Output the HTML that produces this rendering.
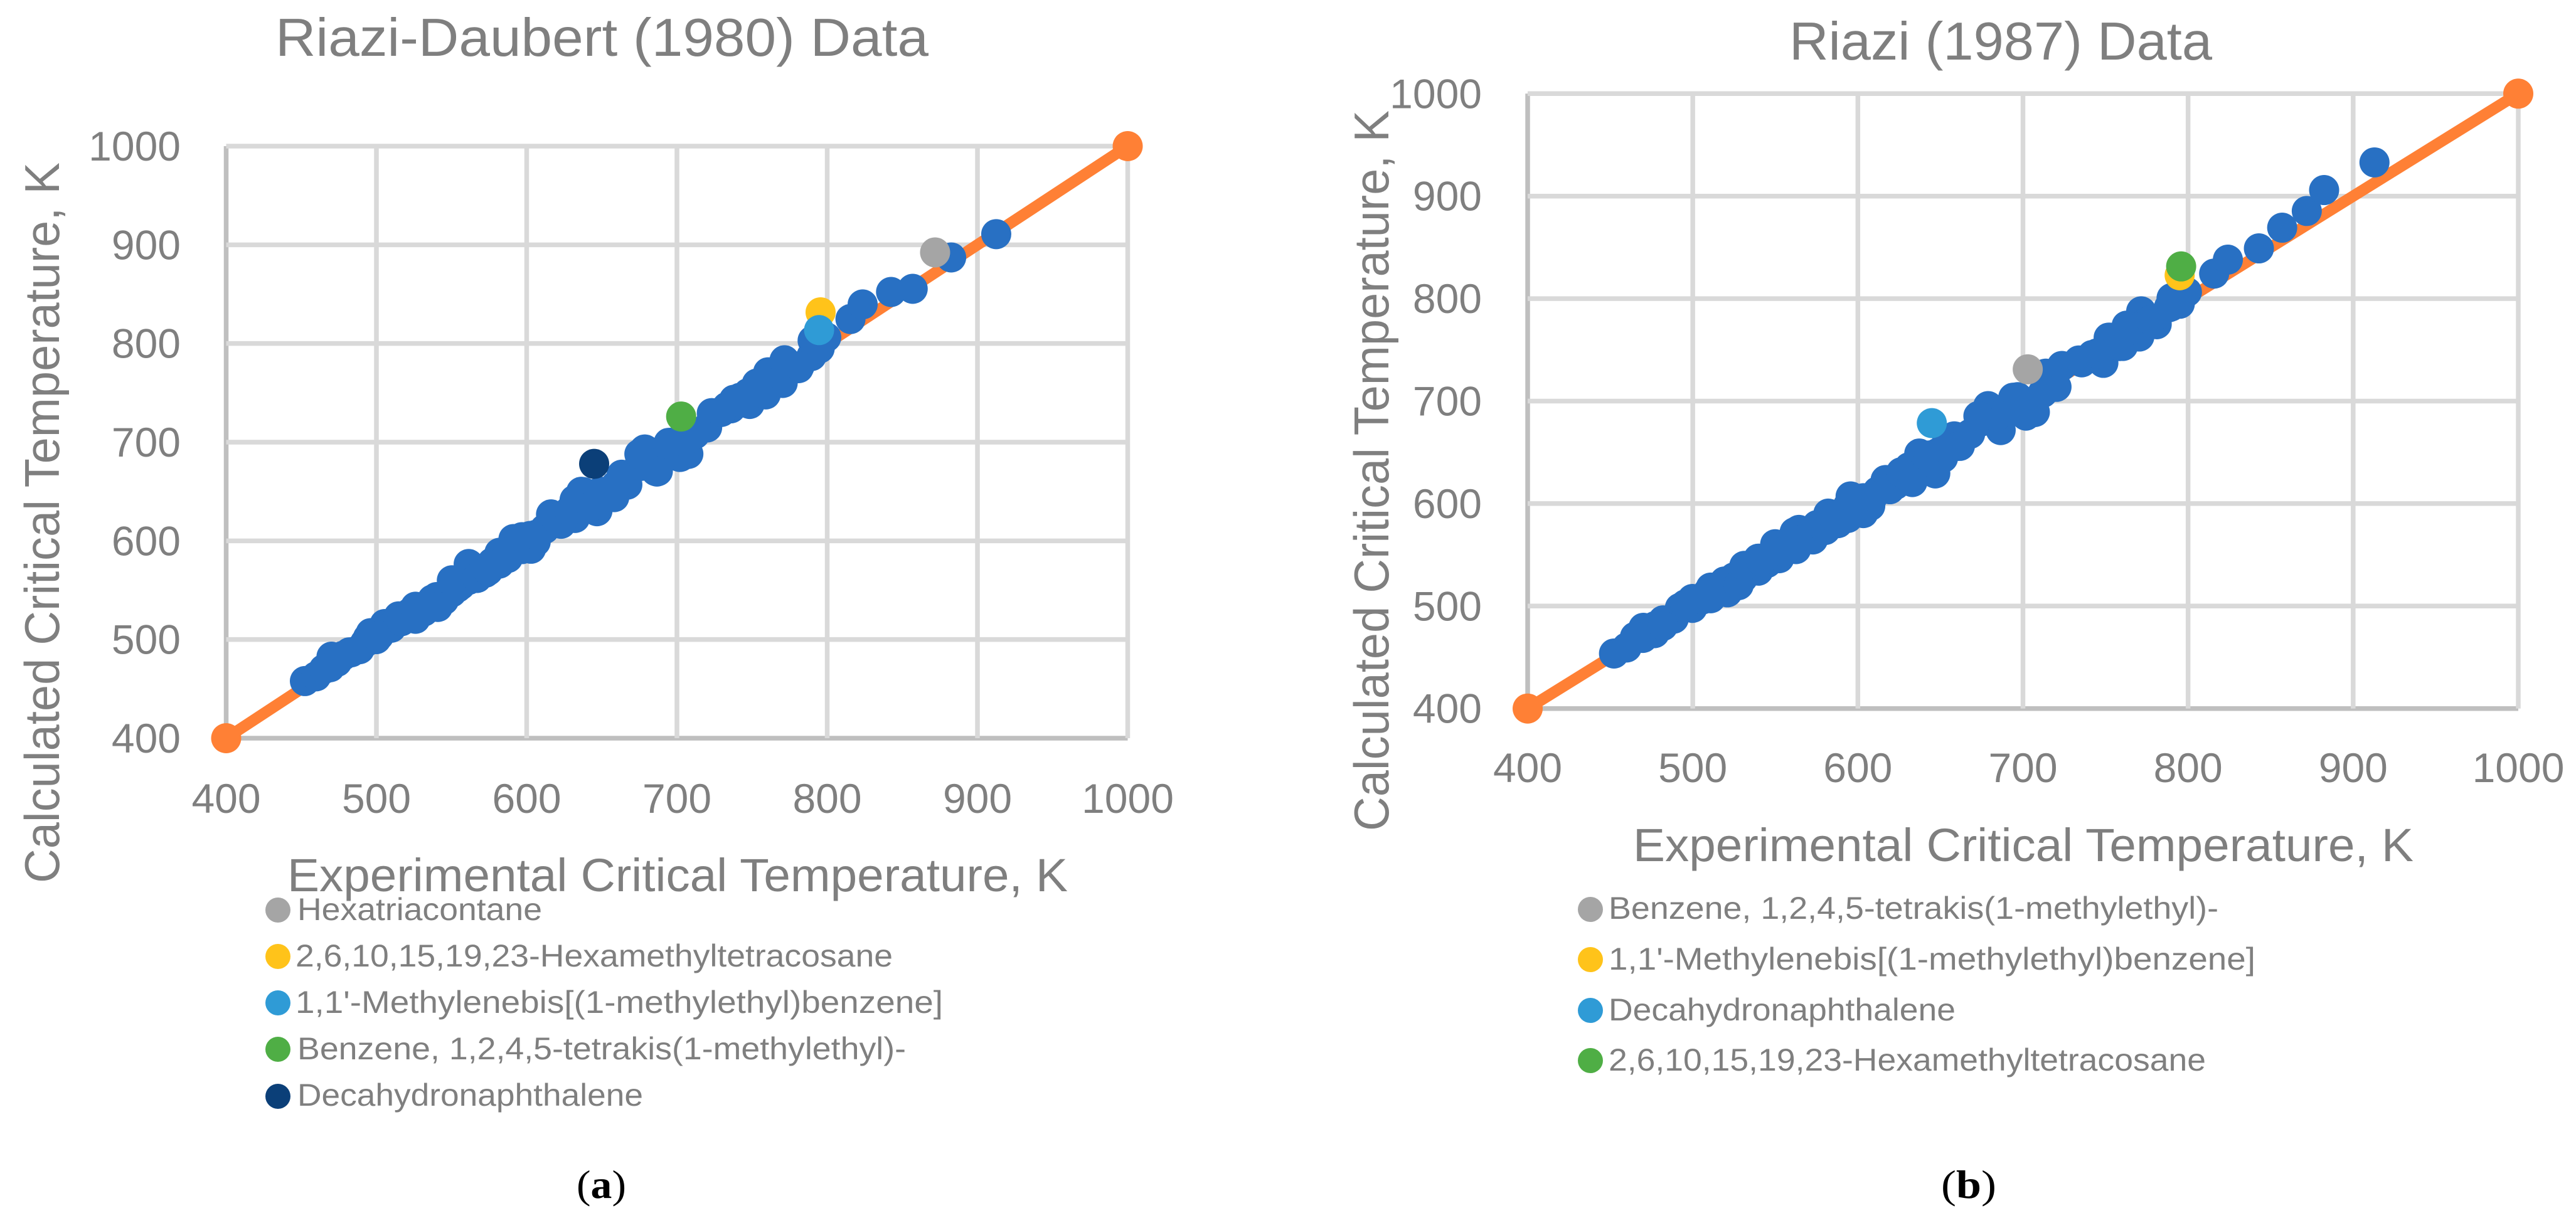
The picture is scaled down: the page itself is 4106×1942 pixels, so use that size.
<!DOCTYPE html>
<html lang="en">
<head>
<meta charset="utf-8">
<title>Critical temperature parity charts</title>
<style>
html,body{margin:0;padding:0;background:#fff;width:4106px;height:1942px;overflow:hidden}
svg{display:block}
text{font-family:"Liberation Sans",sans-serif;fill:#7f7f7f}
.cap{font-family:"Liberation Serif",serif;fill:#000}
</style>
</head>
<body>
<svg id="figure" xmlns="http://www.w3.org/2000/svg" width="4106" height="1942" viewBox="0 0 4106 1942">
  <rect width="4106" height="1942" fill="#fff"/>
  <g id="panel-a"></g>
  <g id="panel-b"></g>

  <text x="439" y="89" font-size="85" textLength="1041" lengthAdjust="spacingAndGlyphs">Riazi-Daubert (1980) Data</text>
  <text x="458" y="1421" font-size="74" textLength="1244" lengthAdjust="spacingAndGlyphs">Experimental Critical Temperature, K</text>
  <text transform="translate(94,1408) rotate(-90)" font-size="78" textLength="1149" lengthAdjust="spacingAndGlyphs">Calculated Critical Temperature, K</text>

  <g>
    <g><circle cx="443" cy="1451" r="20" fill="#a5a5a5"/><text x="474" y="1467" font-size="50" textLength="390" lengthAdjust="spacingAndGlyphs">Hexatriacontane</text></g>
    <g><circle cx="443" cy="1525" r="20" fill="#ffc31a"/><text x="471" y="1541" font-size="50" textLength="952" lengthAdjust="spacingAndGlyphs">2,6,10,15,19,23-Hexamethyltetracosane</text></g>
    <g><circle cx="443" cy="1599" r="20" fill="#2f9bd6"/><text x="471" y="1615" font-size="50" textLength="1032" lengthAdjust="spacingAndGlyphs">1,1'-Methylenebis[(1-methylethyl)benzene]</text></g>
    <g><circle cx="443" cy="1673" r="20" fill="#4fae45"/><text x="474" y="1689" font-size="50" textLength="970" lengthAdjust="spacingAndGlyphs">Benzene, 1,2,4,5-tetrakis(1-methylethyl)-</text></g>
    <g><circle cx="443" cy="1748" r="20" fill="#0b3f78"/><text x="474" y="1763" font-size="50" textLength="551" lengthAdjust="spacingAndGlyphs">Decahydronaphthalene</text></g>
  </g>

  <text class="cap" x="919" y="1910" font-size="64" textLength="79" lengthAdjust="spacingAndGlyphs">(<tspan font-weight="bold">a</tspan>)</text>

  <text x="2852" y="95" font-size="85" textLength="674" lengthAdjust="spacingAndGlyphs">Riazi (1987) Data</text>
  <text x="2603" y="1373" font-size="74" textLength="1244" lengthAdjust="spacingAndGlyphs">Experimental Critical Temperature, K</text>
  <text transform="translate(2213,1325) rotate(-90)" font-size="78" textLength="1149" lengthAdjust="spacingAndGlyphs">Calculated Critical Temperature, K</text>

  <g>
    <g><circle cx="2535" cy="1450" r="20" fill="#a5a5a5"/><text x="2564" y="1465" font-size="50" textLength="972" lengthAdjust="spacingAndGlyphs">Benzene, 1,2,4,5-tetrakis(1-methylethyl)-</text></g>
    <g><circle cx="2535" cy="1530" r="20" fill="#ffc31a"/><text x="2564" y="1546" font-size="50" textLength="1031" lengthAdjust="spacingAndGlyphs">1,1'-Methylenebis[(1-methylethyl)benzene]</text></g>
    <g><circle cx="2535" cy="1611" r="20" fill="#2f9bd6"/><text x="2564" y="1627" font-size="50" textLength="553" lengthAdjust="spacingAndGlyphs">Decahydronaphthalene</text></g>
    <g><circle cx="2535" cy="1691" r="20" fill="#4fae45"/><text x="2564" y="1707" font-size="50" textLength="952" lengthAdjust="spacingAndGlyphs">2,6,10,15,19,23-Hexamethyltetracosane</text></g>
  </g>

  <text class="cap" x="3094" y="1910" font-size="64" textLength="88" lengthAdjust="spacingAndGlyphs">(<tspan font-weight="bold">b</tspan>)</text>
</svg>

<script>
const tickValues = [400, 500, 600, 700, 800, 900, 1000];
const tickLabels = ["400", "500", "600", "700", "800", "900", "1000"];

const parityX = [400, 1000];
const parityY = [400, 1000];

const experimentalA = [452.4,459.9,470.1,469.2,477.6,488.8,494.3,505.5,499.9,514.8,522.3,522,531.6,540,537.2,552,550.2,561.4,561.4,572.6,581.9,587.5,591.2,602.4,602.9,606,616.4,622.9,632.2,634,637.8,647.1,652.7,658.3,660,667,675,678.8,686,676.5,694.5,707.6,702.4,687.3,720.1,723.2,733.3,735.9,747.2,748.4,753.2,759.1,763.9,770.4,771.6,775,789.6,790.3,799.4,815.5,823.6,842.5,856.9,882.5,912.5,465,482,510,527,545,556,567,577,597,612,628,642,650,684,696,712,742,756,767,781,795,616.2,646.8,636.3,631.1,622.9,631.9,659.4,663.2,649,678.4,675,686.7,701.9,696,675,729.5,738,747.3,760.7,768,772,781.6,473.8,483.2,492.5,496.2,507.4,501.8,516.7,526,526,537.2,540.9,550.2,554,563.3,567,574.4,581.9,589.4,596.8,596.8,606,619.2,628.5,637.8,643.4,649];
const calculatedA = [457.9,462.7,482.6,471.9,483.4,490.2,501.6,515.7,500.4,523.5,527.1,523.5,528.4,543,533,552.6,547.8,560.4,576.5,567.7,587.9,582.6,601.8,605,592,599,626.3,617.8,623.2,635,649.4,630.5,645,644.3,652,657,676.7,692.5,670.6,676,699.3,688.1,685.2,670.6,714.9,729.5,735.8,734.3,746,738.7,759.4,748.4,766.7,760,783,775,787.3,803,806.3,824.8,839.6,852.2,855.4,887.2,910.8,470,487,512,530,540,555,570,578,598,612,625,640,648,685,692,708,745,755,770,775,795,626.8,630,649.7,623.6,617.3,641.6,656.4,667,648,692.5,676.6,670.2,685,699.4,688,730.6,743,749.6,770.8,771,781,777,477.3,487,496.8,506.5,511.3,504,518.6,533.2,521,540.5,533,560,552.6,572.1,562.4,569.7,577,589.1,591.6,603.7,606,623.2,630.5,642.6,635.3,649.9];

const experimentalB = [452.3,460,470.1,469.8,476.9,488.5,492.2,499.8,499.8,509.2,510.9,519.3,530.4,529.5,539.7,539.7,552.4,551.6,562.6,564.3,572.8,582.1,588,594,603.3,603.3,607.5,616.8,622.8,630.4,633,637.2,646.9,648.2,651.6,660,658.4,657,674.5,678.9,686.5,694.1,701.8,707.2,713.8,720.3,723.6,733.8,735.6,747.6,748.7,751.9,758.5,762.8,770.5,771.6,774.8,789.7,790,799.3,815.8,824.1,842.9,857,871.9,882.4,912.9,465,482,525,545,557,570,577,598,612,628,642,655,668,684,696,712,742,756,766,781,795,631,664,654,673,696.8,752.4,760.6,773.5,764,745,777.5,788.4,476.9,482,495.6,505.8,510.9,521,527.8,531.2,541.4,549.9,555,561.7,566.8,575.3,580.4,585.5,594,595.6,600.7,609.2,619.4,626.2,633,643.1,646.5,653.3,661.8];
const calculatedB = [453.7,459.6,478.8,468.9,480.2,487.7,498.2,506.9,498.2,513.4,507.6,524,527.5,532.6,546.2,534.5,546.7,554.4,555.6,574.3,565,590.2,580.9,597.7,590.7,605.2,597.7,623,618.3,624,634,648.8,629.4,649.3,644.6,656.3,665.6,658,680,695.1,671.7,703.3,685.8,689.3,726.8,713.9,734.3,739.6,737.8,744.3,737.3,761.9,753.7,773.6,763,787.6,777,792.3,800.5,806.4,824.4,838,849,869.2,885.5,905.9,932.9,470,486,528,542,556,570,578,598,612,625,640,655,668,685,692,708,745,755,770,775,795,635.4,665,661,685.4,703.8,761.9,753.8,775,769,746.6,779,791.5,473.6,480.6,501.7,506.4,518,513.4,520.4,539.2,543.9,560.3,553.2,572,565,579,574.3,586,586,607,597.7,607,614,630.5,621,646.9,642.2,654,656.3];

const highlightNamesA = ["decahydronaphthalene", "hexamethyltetracosane", "methylenebis", "tetrakis-benzene", "hexatriacontane"];
const highlightXA = [644.9, 795.6, 794.6, 702.8, 871.8];
const highlightYA = [678, 831.6, 813.6, 726, 892.3];
const highlightColorsA = ["#0b3f78", "#ffc31a", "#2f9bd6", "#4fae45", "#a5a5a5"];

const highlightNamesB = ["decahydronaphthalene", "tetrakis-benzene", "methylenebis", "hexamethyltetracosane"];
const highlightXB = [644.8, 702.9, 794.9, 795.8];
const highlightYB = [678.5, 731, 822.8, 831.4];
const highlightColorsB = ["#2f9bd6", "#a5a5a5", "#ffc31a", "#4fae45"];

const SVG_NS = "http://www.w3.org/2000/svg";

function makeAxis(d0, d1, p0, p1) {
  return function (v) { return p0 + (v - d0) * (p1 - p0) / (d1 - d0); };
}

function drawPanel(host, prefix, sx, sy, layout, expX, calY, hNames, hX, hY, hColors) {
  tickValues.forEach(function (v, i) {
    const vLine = document.createElementNS(SVG_NS, "line");
    
    
    vLine.setAttribute("x1", sx(v));
    vLine.setAttribute("x2", sx(v));
    vLine.setAttribute("y1", sy(1000));
    vLine.setAttribute("y2", sy(400));
    vLine.setAttribute("stroke", i === 0 ? "#bfbfbf" : "#d9d9d9");
    vLine.setAttribute("stroke-width", "7.5");
    host.appendChild(vLine);

    const hLine = document.createElementNS(SVG_NS, "line");
    
    
    hLine.setAttribute("x1", sx(400));
    hLine.setAttribute("x2", sx(1000));
    hLine.setAttribute("y1", sy(v));
    hLine.setAttribute("y2", sy(v));
    hLine.setAttribute("stroke", i === 0 ? "#bfbfbf" : "#d9d9d9");
    hLine.setAttribute("stroke-width", "7.5");
    host.appendChild(hLine);

    const xTick = document.createElementNS(SVG_NS, "text");
    
    
    xTick.setAttribute("x", sx(v));
    xTick.setAttribute("y", layout.xTickBaseline);
    xTick.setAttribute("text-anchor", "middle");
    xTick.setAttribute("font-size", "66");
    xTick.textContent = tickLabels[i];
    host.appendChild(xTick);

    const yTick = document.createElementNS(SVG_NS, "text");
    
    
    yTick.setAttribute("x", layout.yTickRight);
    yTick.setAttribute("y", sy(v) + 23);
    yTick.setAttribute("text-anchor", "end");
    yTick.setAttribute("font-size", "66");
    yTick.textContent = tickLabels[i];
    host.appendChild(yTick);
  });

  const parity = document.createElementNS(SVG_NS, "line");
  
  
  parity.setAttribute("x1", sx(parityX[0]));
  parity.setAttribute("y1", sy(parityY[0]));
  parity.setAttribute("x2", sx(parityX[1]));
  parity.setAttribute("y2", sy(parityY[1]));
  parity.setAttribute("stroke", "#ff8035");
  parity.setAttribute("stroke-width", "18");
  host.appendChild(parity);

  parityX.forEach(function (v, i) {
    const end = document.createElementNS(SVG_NS, "circle");
    
    
    end.setAttribute("cx", sx(v));
    end.setAttribute("cy", sy(parityY[i]));
    end.setAttribute("r", "24");
    end.setAttribute("fill", "#ff8035");
    host.appendChild(end);
  });

  expX.forEach(function (v, i) {
    const dot = document.createElementNS(SVG_NS, "circle");
    
    
    dot.setAttribute("cx", sx(v));
    dot.setAttribute("cy", sy(calY[i]));
    dot.setAttribute("r", "24");
    dot.setAttribute("fill", "#2870c3");
    host.appendChild(dot);
  });

  hX.forEach(function (v, i) {
    const mark = document.createElementNS(SVG_NS, "circle");
    
    
    mark.setAttribute("cx", sx(v));
    mark.setAttribute("cy", sy(hY[i]));
    mark.setAttribute("r", "24");
    mark.setAttribute("fill", hColors[i]);
    host.appendChild(mark);
  });
}

drawPanel(document.getElementById("panel-a"), "chart-a",
  makeAxis(400, 1000, 360.5, 1797.5), makeAxis(400, 1000, 1177, 233),
  { xTickBaseline: 1296, yTickRight: 288 },
  experimentalA, calculatedA, highlightNamesA, highlightXA, highlightYA, highlightColorsA);

drawPanel(document.getElementById("panel-b"), "chart-b",
  makeAxis(400, 1000, 2435, 4014), makeAxis(400, 1000, 1129.7, 149.3),
  { xTickBaseline: 1247, yTickRight: 2362 },
  experimentalB, calculatedB, highlightNamesB, highlightXB, highlightYB, highlightColorsB);
</script>
</body>
</html>
